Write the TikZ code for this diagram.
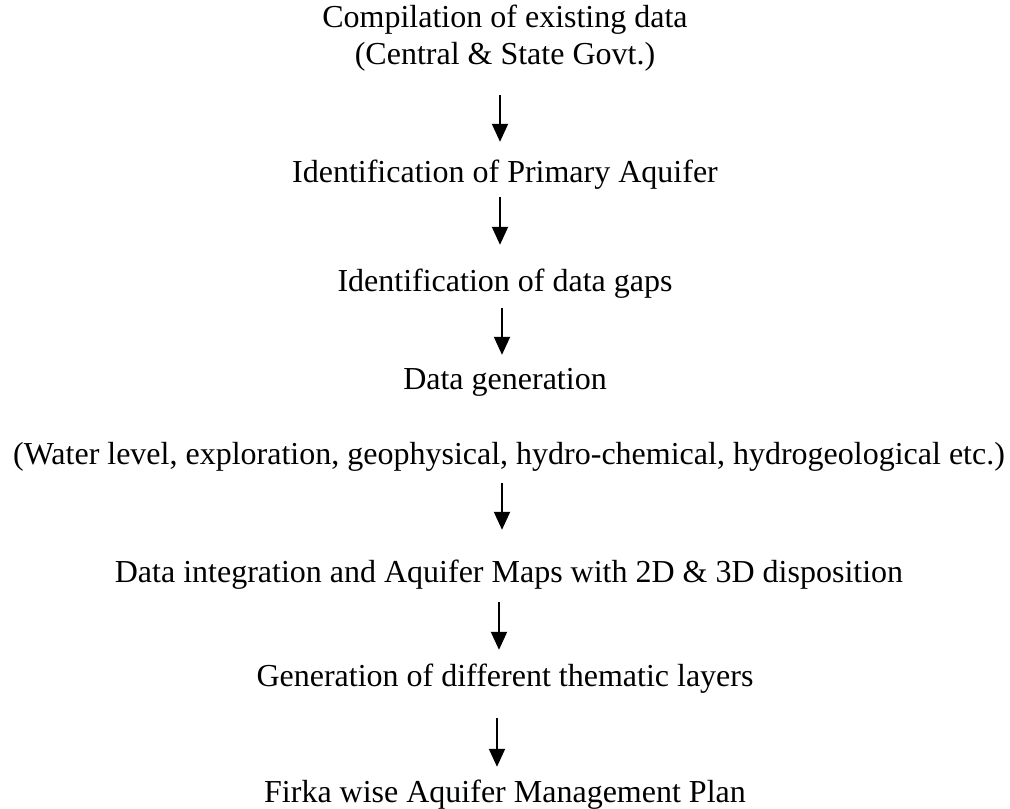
\documentclass[tikz,border=0pt]{standalone}
\usepackage{fontspec}
\setmainfont{Liberation Serif}
\usetikzlibrary{arrows.meta}
\tikzset{
  txt/.style={inner sep=0pt, anchor=base, align=center, font=\fontsize{32}{37}\selectfont, text height=22pt, text depth=7pt},
  arr/.style={line width=2pt, -{Triangle[width=16pt,length=18pt]}}
}
\begin{document}
\begin{tikzpicture}[x=1pt,y=-1pt]
\useasboundingbox (0,0) rectangle (1010,809);
\node[txt] (n1) at (505,64) {Compilation of existing data\\(Central \& State Govt.)};
\node[txt] (n2) at (505,182) {Identification of Primary Aquifer};
\node[txt] (n3) at (505,291) {Identification of data gaps};
\node[txt] (n4) at (505,389) {Data generation};
\node[txt] (n5) at (509,464) {(Water level, exploration, geophysical, hydro-chemical, hydrogeological etc.)};
\node[txt] (n6) at (509,582) {Data integration and Aquifer Maps with 2D \& 3D disposition};
\node[txt] (n7) at (505,686) {Generation of different thematic layers};
\node[txt] (n8) at (505,802) {Firka wise Aquifer Management Plan};
\draw[arr, shorten <=24pt, shorten >=18pt] ([xshift=-5pt]n1.south) -- ([xshift=-5pt]n2.north);
\draw[arr, shorten <=8pt, shorten >=24pt] ([xshift=-5pt]n2.south) -- ([xshift=-5pt]n3.north);
\draw[arr, shorten <=10pt, shorten >=12pt] ([xshift=-3pt]n3.south) -- ([xshift=-3pt]n4.north);
\draw[arr, shorten <=12pt, shorten >=30pt] ([xshift=-7pt]n5.south) -- ([xshift=-7pt]n6.north);
\draw[arr, shorten <=13pt, shorten >=14pt] ([xshift=-10pt]n6.south) -- ([xshift=-6pt]n7.north);
\draw[arr, shorten <=25pt, shorten >=13pt] ([xshift=-8pt]n7.south) -- ([xshift=-8pt]n8.north);
\end{tikzpicture}
\end{document}
